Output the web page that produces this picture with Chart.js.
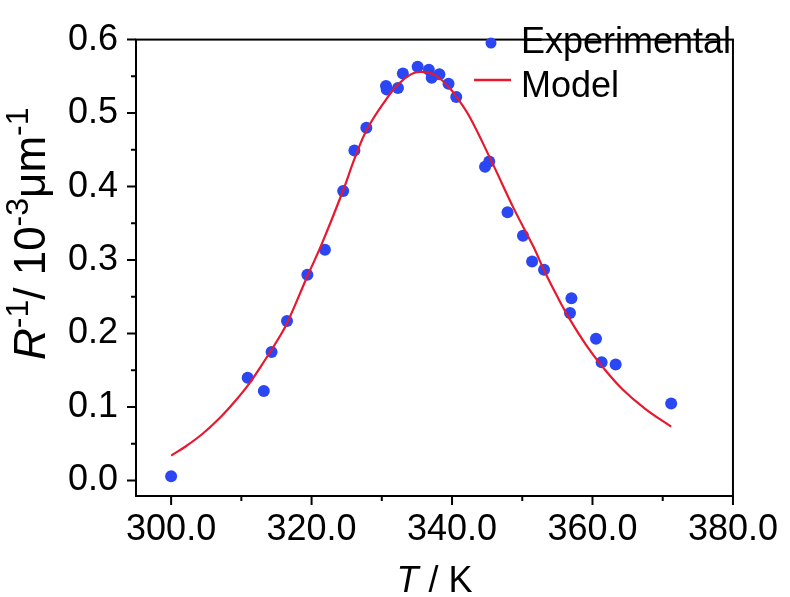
<!DOCTYPE html>
<html>
<head>
<meta charset="utf-8">
<script src="https://cdn.jsdelivr.net/npm/chart.js@4.4.0/dist/chart.umd.min.js"></script>
<style>
html, body { margin: 0; padding: 0; background: #fff; }
</style>
</head>
<body>
<canvas id="myGraph" width="790" height="597"></canvas>
<script>
// Datos
const expT = [300.0, 310.9, 313.2, 314.3, 316.5, 319.4, 321.9, 324.5, 326.1, 327.8,
              330.6, 330.7, 332.3, 333.0, 335.1, 336.7, 337.1, 338.2, 339.5, 340.6,
              344.7, 345.3, 347.9, 350.1, 351.4, 353.1, 357.0, 356.8, 360.5, 361.3,
              363.3, 371.2];
const expR = [0.006, 0.140, 0.122, 0.175, 0.217, 0.280, 0.314, 0.394, 0.449, 0.480,
              0.537, 0.532, 0.534, 0.554, 0.563, 0.559, 0.548, 0.553, 0.540, 0.522,
              0.427, 0.434, 0.365, 0.333, 0.298, 0.287, 0.248, 0.228, 0.193, 0.161,
              0.158, 0.105];

const modelT = [300.0, 302.0, 304.4, 306.7, 309.1, 311.2, 313.3, 315.4, 316.5, 319.4,
                321.5, 324.5, 326.2, 327.9, 330.5, 332.3, 334.2, 335.6, 337.5, 339.4,
                340.8, 342.5, 345.5, 348.8, 351.6, 353.2, 354.9, 356.8, 359.2, 361.5,
                364.3, 367.6, 371.2];
const modelR = [0.034, 0.046, 0.063, 0.083, 0.108, 0.133, 0.163, 0.195, 0.214, 0.278,
                0.323, 0.395, 0.440, 0.478, 0.517, 0.539, 0.553, 0.556, 0.552, 0.537,
                0.520, 0.495, 0.437, 0.370, 0.318, 0.284, 0.252, 0.219, 0.183, 0.154,
                0.124, 0.097, 0.0735];

const xTicks = [300, 320, 340, 360, 380];
const xMinor = [310, 330, 350, 370];
const yTicks = [0, 0.1, 0.2, 0.3, 0.4, 0.5, 0.6];
const yMinor = [0.05, 0.15, 0.25, 0.35, 0.45, 0.55];

const FONT = "'Liberation Sans', Arial, sans-serif";
const BLUE = '#2b47f4';
const RED = '#e8182f';

// texto con cursiva y superíndices
function setFont(ctx, p, size) {
    ctx.font = (p.italic ? 'italic ' : '') + (p.sup ? Math.round(size * 0.72) : size) + 'px ' + FONT;
}
function richWidth(ctx, parts, size) {
    let w = 0;
    parts.forEach(p => { setFont(ctx, p, size); w += ctx.measureText(p.text).width; });
    return w;
}
function drawRich(ctx, parts, x, y, size) {
    parts.forEach(p => {
        setFont(ctx, p, size);
        ctx.fillText(p.text, x, p.sup ? y - size * 0.38 : y);
        x += ctx.measureText(p.text).width;
    });
}

const yTitle = [
    {text: 'R', italic: true}, {text: '-1', sup: true}, {text: '/ 10'},
    {text: '-3', sup: true}, {text: '\u03bcm'}, {text: '-1', sup: true}
];
const xTitle = [{text: 'T', italic: true}, {text: ' / K'}];

const decor = {
    id: 'decor',
    afterDraw(chart) {
        const {ctx, chartArea: a, scales: {x, y}} = chart;
        ctx.save();
        ctx.strokeStyle = '#000';
        ctx.lineWidth = 2;
        ctx.strokeRect(a.left, a.top, a.right - a.left, a.bottom - a.top);
        ctx.beginPath();
        xTicks.forEach(v => { const p = x.getPixelForValue(v); ctx.moveTo(p, a.bottom); ctx.lineTo(p, a.bottom + 9); });
        xMinor.forEach(v => { const p = x.getPixelForValue(v); ctx.moveTo(p, a.bottom); ctx.lineTo(p, a.bottom + 5); });
        yTicks.forEach(v => { const p = y.getPixelForValue(v); ctx.moveTo(a.left, p); ctx.lineTo(a.left - 9, p); });
        yMinor.forEach(v => { const p = y.getPixelForValue(v); ctx.moveTo(a.left, p); ctx.lineTo(a.left - 5, p); });
        ctx.stroke();

        // títulos de ejes
        ctx.fillStyle = '#000';
        ctx.textBaseline = 'alphabetic';
        ctx.textAlign = 'left';
        const wx = richWidth(ctx, xTitle, 36);
        drawRich(ctx, xTitle, (a.left + a.right) / 2 - wx / 2, 592, 36);
        ctx.translate(45, 360);
        ctx.rotate(-Math.PI / 2);
        drawRich(ctx, yTitle, 0, 0, 44);
        ctx.restore();

        // leyenda
        const ds = chart.data.datasets;
        ctx.save();
        ctx.fillStyle = ds[0].backgroundColor;
        ctx.beginPath();
        ctx.arc(491, 43, 5.5, 0, Math.PI * 2);
        ctx.fill();
        ctx.strokeStyle = ds[1].borderColor;
        ctx.lineWidth = 2.5;
        ctx.beginPath();
        ctx.moveTo(474, 80);
        ctx.lineTo(511, 80);
        ctx.stroke();
        ctx.fillStyle = '#000';
        ctx.font = '36px ' + FONT;
        ctx.textBaseline = 'alphabetic';
        ctx.fillText(ds[0].label, 521, 53);
        ctx.fillText(ds[1].label, 521, 97);
        ctx.restore();
    }
};

new Chart(document.getElementById('myGraph').getContext('2d'), {
    type: 'scatter',
    data: {
        datasets: [{
            label: 'Experimental',
            data: expT.map((t, i) => ({x: t, y: expR[i]})),
            backgroundColor: BLUE,
            borderColor: BLUE,
            pointRadius: 6,
            pointBorderWidth: 0,
            order: 1
        }, {
            label: 'Model',
            data: modelT.map((t, i) => ({x: t, y: modelR[i]})),
            showLine: true,
            borderColor: RED,
            backgroundColor: RED,
            borderWidth: 2.2,
            pointRadius: 0,
            tension: 0.4,
            order: 0
        }]
    },
    options: {
        responsive: false,
        animation: false,
        devicePixelRatio: 1,
        layout: { padding: { top: 20, right: 52, left: 0, bottom: 0 } },
        plugins: { legend: { display: false }, tooltip: { enabled: false } },
        scales: {
            x: {
                type: 'linear', min: 295, max: 380,
                afterBuildTicks: s => { s.ticks = xTicks.map(v => ({value: v})); },
                afterFit: s => { s.height = 101; },
                grid: { display: false, drawTicks: false },
                border: { display: false },
                ticks: {
                    font: { family: FONT, size: 36 }, color: '#000',
                    padding: 12, maxRotation: 0, autoSkip: false,
                    callback: v => Number(v).toFixed(1)
                }
            },
            y: {
                type: 'linear', min: -0.021, max: 0.6,
                afterBuildTicks: s => { s.ticks = yTicks.map(v => ({value: v})); },
                afterFit: s => { s.width = 136; },
                grid: { display: false, drawTicks: false },
                border: { display: false },
                ticks: {
                    font: { family: FONT, size: 36 }, color: '#000',
                    padding: 18, autoSkip: false,
                    callback: v => Number(v).toFixed(1)
                }
            }
        }
    },
    plugins: [decor]
});
</script>
</body>
</html>
